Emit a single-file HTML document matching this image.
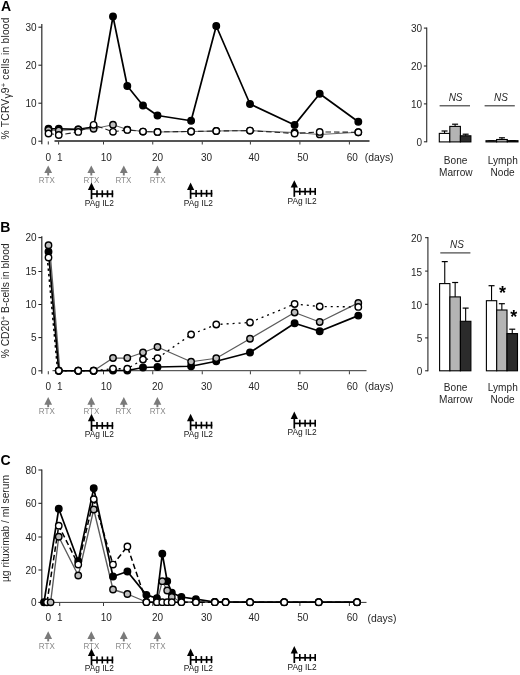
<!DOCTYPE html>
<html lang="en"><head><meta charset="utf-8"><title>Figure</title>
<style>
html,body{margin:0;padding:0;background:#fff;}
body{width:520px;height:675px;overflow:hidden;font-family:"Liberation Sans", Arial, Helvetica, sans-serif;}
svg{display:block;filter:blur(0.35px);}
</style></head><body>
<svg width="520" height="675" viewBox="0 0 520 675" font-family='&quot;Liberation Sans&quot;, Arial, Helvetica, sans-serif'>
<rect width="520" height="675" fill="#fff"/>
<text x="1.1" y="10.9" font-size="14" text-anchor="start" fill="#000" font-weight="bold">A</text>
<text transform="translate(9.3,78.4) rotate(-90)" font-size="10.3" letter-spacing="0.2" text-anchor="middle" fill="#262626">% TCRV<tspan dy="1.5">γ</tspan><tspan dy="-1.5">9</tspan><tspan font-size="7.5" dy="-3.5">+</tspan><tspan dy="3.5"> cells in blood</tspan></text>
<line x1="41.8" y1="24" x2="41.8" y2="144.2" stroke="#3a3a3a" stroke-width="1.3" />
<line x1="38.4" y1="27.2" x2="41.8" y2="27.2" stroke="#1a1a1a" stroke-width="1" />
<text x="36.6" y="30.9" font-size="10" text-anchor="end" fill="#262626" >30</text>
<line x1="38.4" y1="65.2" x2="41.8" y2="65.2" stroke="#1a1a1a" stroke-width="1" />
<text x="36.6" y="68.9" font-size="10" text-anchor="end" fill="#262626" >20</text>
<line x1="38.4" y1="103.2" x2="41.8" y2="103.2" stroke="#1a1a1a" stroke-width="1" />
<text x="36.6" y="106.9" font-size="10" text-anchor="end" fill="#262626" >10</text>
<line x1="38.4" y1="141.2" x2="41.8" y2="141.2" stroke="#1a1a1a" stroke-width="1" />
<text x="36.6" y="144.89999999999998" font-size="10" text-anchor="end" fill="#262626" >0</text>
<line x1="54.5" y1="140.9" x2="369.5" y2="140.9" stroke="#1c1c1c" stroke-width="1.5" />
<line x1="48.3" y1="141.4" x2="48.3" y2="144.5" stroke="#3a3a3a" stroke-width="1" />
<line x1="58.6" y1="141.4" x2="58.6" y2="144.5" stroke="#3a3a3a" stroke-width="1" />
<line x1="103.5" y1="141.4" x2="103.5" y2="144.5" stroke="#3a3a3a" stroke-width="1" />
<line x1="152.75" y1="141.4" x2="152.75" y2="144.5" stroke="#3a3a3a" stroke-width="1" />
<line x1="202.25" y1="141.4" x2="202.25" y2="144.5" stroke="#3a3a3a" stroke-width="1" />
<line x1="250.4" y1="141.4" x2="250.4" y2="144.5" stroke="#3a3a3a" stroke-width="1" />
<line x1="299.9" y1="141.4" x2="299.9" y2="144.5" stroke="#3a3a3a" stroke-width="1" />
<line x1="349.4" y1="141.4" x2="349.4" y2="144.5" stroke="#3a3a3a" stroke-width="1" />
<text x="48.2" y="160.7" font-size="10" text-anchor="middle" fill="#262626" >0</text>
<text x="59.9" y="160.7" font-size="10" text-anchor="middle" fill="#262626" >1</text>
<text x="106.3" y="160.7" font-size="10" text-anchor="middle" fill="#262626" >10</text>
<text x="157.5" y="160.7" font-size="10" text-anchor="middle" fill="#262626" >20</text>
<text x="206.5" y="160.7" font-size="10" text-anchor="middle" fill="#262626" >30</text>
<text x="254" y="160.7" font-size="10" text-anchor="middle" fill="#262626" >40</text>
<text x="302.75" y="160.7" font-size="10" text-anchor="middle" fill="#262626" >50</text>
<text x="352.25" y="160.7" font-size="10" text-anchor="middle" fill="#262626" >60</text>
<text x="364.7" y="161.3" font-size="10.4" text-anchor="start" fill="#262626" >(days)</text>
<polyline points="48.5,130 58.75,130.5 78.25,129.4 93.6,128.75 113,124.7 127.3,129.6 143,131.6 157.5,131.9 191.1,131.5 216.25,131 250,130.6 294.6,132.5 319.7,134.4 358.3,132.25" fill="none" stroke="#666" stroke-width="1.05"  stroke-linejoin="round" />
<polyline points="48.5,128.75 58.75,128.75 78.25,129.4 93.6,127 113,16.5 127.3,86 143,105.5 157.5,115.5 191.1,120.75 216.25,26 250,104 294.6,124.9 319.7,93.75 358.3,121.8" fill="none" stroke="#000" stroke-width="1.7"  stroke-linejoin="round" />
<polyline points="48.5,133.5 58.75,135 78.25,131.9 93.6,124.8 113,131.8 127.3,129.9 143,131.6 157.5,131.9 191.1,131.5 216.25,131 250,130.6 294.6,133.5 319.7,131.9 358.3,132.25" fill="none" stroke="#222" stroke-width="1.1" stroke-dasharray="5.5 3" stroke-linejoin="round" />
<circle cx="48.5" cy="128.75" r="3.25" fill="#000" stroke="#000" stroke-width="1.4"/>
<circle cx="58.75" cy="128.75" r="3.25" fill="#000" stroke="#000" stroke-width="1.4"/>
<circle cx="78.25" cy="129.4" r="3.25" fill="#000" stroke="#000" stroke-width="1.4"/>
<circle cx="93.6" cy="127" r="3.25" fill="#000" stroke="#000" stroke-width="1.4"/>
<circle cx="113" cy="16.5" r="3.25" fill="#000" stroke="#000" stroke-width="1.4"/>
<circle cx="127.3" cy="86" r="3.25" fill="#000" stroke="#000" stroke-width="1.4"/>
<circle cx="143" cy="105.5" r="3.25" fill="#000" stroke="#000" stroke-width="1.4"/>
<circle cx="157.5" cy="115.5" r="3.25" fill="#000" stroke="#000" stroke-width="1.4"/>
<circle cx="191.1" cy="120.75" r="3.25" fill="#000" stroke="#000" stroke-width="1.4"/>
<circle cx="216.25" cy="26" r="3.25" fill="#000" stroke="#000" stroke-width="1.4"/>
<circle cx="250" cy="104" r="3.25" fill="#000" stroke="#000" stroke-width="1.4"/>
<circle cx="294.6" cy="124.9" r="3.25" fill="#000" stroke="#000" stroke-width="1.4"/>
<circle cx="319.7" cy="93.75" r="3.25" fill="#000" stroke="#000" stroke-width="1.4"/>
<circle cx="358.3" cy="121.8" r="3.25" fill="#000" stroke="#000" stroke-width="1.4"/>
<circle cx="48.5" cy="130" r="3.2" fill="#bdbdbd" stroke="#000" stroke-width="1.4"/>
<circle cx="58.75" cy="130.5" r="3.2" fill="#bdbdbd" stroke="#000" stroke-width="1.4"/>
<circle cx="78.25" cy="129.4" r="3.2" fill="#bdbdbd" stroke="#000" stroke-width="1.4"/>
<circle cx="93.6" cy="128.75" r="3.2" fill="#bdbdbd" stroke="#000" stroke-width="1.4"/>
<circle cx="113" cy="124.7" r="3.2" fill="#bdbdbd" stroke="#000" stroke-width="1.4"/>
<circle cx="127.3" cy="129.6" r="3.2" fill="#bdbdbd" stroke="#000" stroke-width="1.4"/>
<circle cx="143" cy="131.6" r="3.2" fill="#bdbdbd" stroke="#000" stroke-width="1.4"/>
<circle cx="157.5" cy="131.9" r="3.2" fill="#bdbdbd" stroke="#000" stroke-width="1.4"/>
<circle cx="191.1" cy="131.5" r="3.2" fill="#bdbdbd" stroke="#000" stroke-width="1.4"/>
<circle cx="216.25" cy="131" r="3.2" fill="#bdbdbd" stroke="#000" stroke-width="1.4"/>
<circle cx="250" cy="130.6" r="3.2" fill="#bdbdbd" stroke="#000" stroke-width="1.4"/>
<circle cx="294.6" cy="132.5" r="3.2" fill="#bdbdbd" stroke="#000" stroke-width="1.4"/>
<circle cx="319.7" cy="134.4" r="3.2" fill="#bdbdbd" stroke="#000" stroke-width="1.4"/>
<circle cx="358.3" cy="132.25" r="3.2" fill="#bdbdbd" stroke="#000" stroke-width="1.4"/>
<circle cx="48.5" cy="133.5" r="3.2" fill="#fff" stroke="#000" stroke-width="1.4"/>
<circle cx="58.75" cy="135" r="3.2" fill="#fff" stroke="#000" stroke-width="1.4"/>
<circle cx="78.25" cy="131.9" r="3.2" fill="#fff" stroke="#000" stroke-width="1.4"/>
<circle cx="93.6" cy="124.8" r="3.2" fill="#fff" stroke="#000" stroke-width="1.4"/>
<circle cx="113" cy="131.8" r="3.2" fill="#fff" stroke="#000" stroke-width="1.4"/>
<circle cx="127.3" cy="129.9" r="3.2" fill="#fff" stroke="#000" stroke-width="1.4"/>
<circle cx="143" cy="131.6" r="3.2" fill="#fff" stroke="#000" stroke-width="1.4"/>
<circle cx="157.5" cy="131.9" r="3.2" fill="#fff" stroke="#000" stroke-width="1.4"/>
<circle cx="191.1" cy="131.5" r="3.2" fill="#fff" stroke="#000" stroke-width="1.4"/>
<circle cx="216.25" cy="131" r="3.2" fill="#fff" stroke="#000" stroke-width="1.4"/>
<circle cx="250" cy="130.6" r="3.2" fill="#fff" stroke="#000" stroke-width="1.4"/>
<circle cx="294.6" cy="133.5" r="3.2" fill="#fff" stroke="#000" stroke-width="1.4"/>
<circle cx="319.7" cy="131.9" r="3.2" fill="#fff" stroke="#000" stroke-width="1.4"/>
<circle cx="358.3" cy="132.25" r="3.2" fill="#fff" stroke="#000" stroke-width="1.4"/>
<polygon points="48.2,165.4 44.300000000000004,173.0 52.1,173.0" fill="#7a7a7a"/>
<line x1="48.2" y1="171.8" x2="48.2" y2="175.5" stroke="#7a7a7a" stroke-width="1.9" />
<text x="46.800000000000004" y="182.7" font-size="8.9" text-anchor="middle" fill="#8a8a8a" textLength="15.9" lengthAdjust="spacingAndGlyphs">RTX</text>
<polygon points="91.3,165.4 87.39999999999999,173.0 95.2,173.0" fill="#7a7a7a"/>
<line x1="91.3" y1="171.8" x2="91.3" y2="175.5" stroke="#7a7a7a" stroke-width="1.9" />
<text x="91.39999999999999" y="182.7" font-size="8.9" text-anchor="middle" fill="#8a8a8a" textLength="15.9" lengthAdjust="spacingAndGlyphs">RTX</text>
<polygon points="123.8,165.4 119.89999999999999,173.0 127.7,173.0" fill="#7a7a7a"/>
<line x1="123.8" y1="171.8" x2="123.8" y2="175.5" stroke="#7a7a7a" stroke-width="1.9" />
<text x="123.39999999999999" y="182.7" font-size="8.9" text-anchor="middle" fill="#8a8a8a" textLength="15.9" lengthAdjust="spacingAndGlyphs">RTX</text>
<polygon points="157.4,165.4 153.5,173.0 161.3,173.0" fill="#7a7a7a"/>
<line x1="157.4" y1="171.8" x2="157.4" y2="175.5" stroke="#7a7a7a" stroke-width="1.9" />
<text x="157.6" y="182.7" font-size="8.9" text-anchor="middle" fill="#8a8a8a" textLength="15.9" lengthAdjust="spacingAndGlyphs">RTX</text>
<polygon points="91.5,182.5 87.9,189.9 95.1,189.9" fill="#000"/>
<line x1="91.5" y1="187.5" x2="91.5" y2="199.2" stroke="#000" stroke-width="1.7" />
<line x1="91.5" y1="194.0" x2="113.2" y2="194.0" stroke="#000" stroke-width="1.7" />
<line x1="97.0" y1="190.3" x2="97.0" y2="197.3" stroke="#000" stroke-width="1.6" />
<line x1="102.3" y1="190.3" x2="102.3" y2="197.3" stroke="#000" stroke-width="1.6" />
<line x1="107.5" y1="190.3" x2="107.5" y2="197.3" stroke="#000" stroke-width="1.6" />
<line x1="112.4" y1="190.3" x2="112.4" y2="197.3" stroke="#000" stroke-width="1.6" />
<text x="84.7" y="205.79999999999998" font-size="9" text-anchor="start" fill="#161616" textLength="29.2" lengthAdjust="spacingAndGlyphs">PAg IL2</text>
<polygon points="190.6,182.5 187.0,189.9 194.2,189.9" fill="#000"/>
<line x1="190.6" y1="187.5" x2="190.6" y2="198.8" stroke="#000" stroke-width="1.7" />
<line x1="190.6" y1="193.60000000000002" x2="212.29999999999998" y2="193.60000000000002" stroke="#000" stroke-width="1.7" />
<line x1="196.1" y1="189.90000000000003" x2="196.1" y2="196.90000000000003" stroke="#000" stroke-width="1.6" />
<line x1="201.4" y1="189.90000000000003" x2="201.4" y2="196.90000000000003" stroke="#000" stroke-width="1.6" />
<line x1="206.6" y1="189.90000000000003" x2="206.6" y2="196.90000000000003" stroke="#000" stroke-width="1.6" />
<line x1="211.5" y1="189.90000000000003" x2="211.5" y2="196.90000000000003" stroke="#000" stroke-width="1.6" />
<text x="183.79999999999998" y="205.79999999999998" font-size="9" text-anchor="start" fill="#161616" textLength="29.2" lengthAdjust="spacingAndGlyphs">PAg IL2</text>
<polygon points="294.3,180.2 290.7,187.6 297.90000000000003,187.6" fill="#000"/>
<line x1="294.3" y1="185.2" x2="294.3" y2="196.8" stroke="#000" stroke-width="1.7" />
<line x1="294.3" y1="191.60000000000002" x2="316.0" y2="191.60000000000002" stroke="#000" stroke-width="1.7" />
<line x1="299.8" y1="187.90000000000003" x2="299.8" y2="194.90000000000003" stroke="#000" stroke-width="1.6" />
<line x1="305.1" y1="187.90000000000003" x2="305.1" y2="194.90000000000003" stroke="#000" stroke-width="1.6" />
<line x1="310.3" y1="187.90000000000003" x2="310.3" y2="194.90000000000003" stroke="#000" stroke-width="1.6" />
<line x1="315.2" y1="187.90000000000003" x2="315.2" y2="194.90000000000003" stroke="#000" stroke-width="1.6" />
<text x="287.5" y="203.9" font-size="9" text-anchor="start" fill="#161616" textLength="29.2" lengthAdjust="spacingAndGlyphs">PAg IL2</text>
<line x1="426.7" y1="27.6" x2="426.7" y2="142.3" stroke="#3a3a3a" stroke-width="1.2" />
<line x1="423.9" y1="28.1" x2="426.7" y2="28.1" stroke="#1a1a1a" stroke-width="1" />
<text x="422" y="32.300000000000004" font-size="10" text-anchor="end" fill="#262626" >30</text>
<line x1="423.9" y1="66" x2="426.7" y2="66" stroke="#1a1a1a" stroke-width="1" />
<text x="422" y="70.2" font-size="10" text-anchor="end" fill="#262626" >20</text>
<line x1="423.9" y1="103.9" x2="426.7" y2="103.9" stroke="#1a1a1a" stroke-width="1" />
<text x="422" y="108.10000000000001" font-size="10" text-anchor="end" fill="#262626" >10</text>
<line x1="423.9" y1="141.8" x2="426.7" y2="141.8" stroke="#1a1a1a" stroke-width="1" />
<text x="422" y="146.0" font-size="10" text-anchor="end" fill="#262626" >0</text>
<line x1="444.55" y1="131" x2="444.55" y2="133.4" stroke="#000" stroke-width="1.1" />
<line x1="441.55" y1="131" x2="447.55" y2="131" stroke="#000" stroke-width="1.2" />
<rect x="439.3" y="133.4" width="10.5" height="8.5" fill="#fff" stroke="#000" stroke-width="1.1"/>
<line x1="455.1" y1="124.2" x2="455.1" y2="126.4" stroke="#000" stroke-width="1.1" />
<line x1="452.1" y1="124.2" x2="458.1" y2="124.2" stroke="#000" stroke-width="1.2" />
<rect x="449.8" y="126.4" width="10.599999999999966" height="15.5" fill="#b4b4b4" stroke="#000" stroke-width="1.1"/>
<line x1="465.65" y1="134.2" x2="465.65" y2="135.8" stroke="#000" stroke-width="1.1" />
<line x1="462.65" y1="134.2" x2="468.65" y2="134.2" stroke="#000" stroke-width="1.2" />
<rect x="460.4" y="135.8" width="10.5" height="6.099999999999994" fill="#2b2b2b" stroke="#000" stroke-width="1.1"/>
<line x1="491.3" y1="140.7" x2="491.3" y2="140.7" stroke="#000" stroke-width="1.1" />
<line x1="488.3" y1="140.7" x2="494.3" y2="140.7" stroke="#000" stroke-width="1.2" />
<rect x="486" y="140.7" width="10.600000000000023" height="1.200000000000017" fill="#fff" stroke="#000" stroke-width="1.1"/>
<line x1="501.95000000000005" y1="137.8" x2="501.95000000000005" y2="139.5" stroke="#000" stroke-width="1.1" />
<line x1="498.95000000000005" y1="137.8" x2="504.95000000000005" y2="137.8" stroke="#000" stroke-width="1.2" />
<rect x="496.6" y="139.5" width="10.699999999999989" height="2.4000000000000057" fill="#b4b4b4" stroke="#000" stroke-width="1.1"/>
<line x1="512.65" y1="140.7" x2="512.65" y2="140.7" stroke="#000" stroke-width="1.1" />
<line x1="509.65" y1="140.7" x2="515.65" y2="140.7" stroke="#000" stroke-width="1.2" />
<rect x="507.3" y="140.7" width="10.699999999999989" height="1.200000000000017" fill="#2b2b2b" stroke="#000" stroke-width="1.1"/>
<line x1="439.6" y1="105.8" x2="470" y2="105.8" stroke="#333" stroke-width="1.1" />
<line x1="484.6" y1="105.8" x2="514.8" y2="105.8" stroke="#333" stroke-width="1.1" />
<text x="455.6" y="101.1" font-size="10" text-anchor="middle" fill="#262626" font-style="italic">NS</text>
<text x="501" y="101.1" font-size="10" text-anchor="middle" fill="#262626" font-style="italic">NS</text>
<text x="455.6" y="164.3" font-size="10.1" text-anchor="middle" fill="#262626" >Bone</text>
<text x="455.8" y="176.3" font-size="10.1" text-anchor="middle" fill="#262626" >Marrow</text>
<text x="502.8" y="164.3" font-size="10.1" text-anchor="middle" fill="#262626" >Lymph</text>
<text x="502.6" y="176.3" font-size="10.1" text-anchor="middle" fill="#262626" >Node</text>
<text x="0.2" y="232.3" font-size="14" text-anchor="start" fill="#000" font-weight="bold">B</text>
<text transform="translate(9.4,300.8) rotate(-90)" font-size="10.3" letter-spacing="0" text-anchor="middle" fill="#262626">% CD20<tspan font-size="7" dy="-3.5">+</tspan><tspan dy="3.5"> B-cells in blood</tspan></text>
<line x1="41.8" y1="236.2" x2="41.8" y2="373.8" stroke="#3a3a3a" stroke-width="1.3" />
<line x1="38.4" y1="237.6" x2="41.8" y2="237.6" stroke="#1a1a1a" stroke-width="1" />
<text x="36.6" y="241.29999999999998" font-size="10" text-anchor="end" fill="#262626" >20</text>
<line x1="38.4" y1="271.5" x2="41.8" y2="271.5" stroke="#1a1a1a" stroke-width="1" />
<text x="36.6" y="275.2" font-size="10" text-anchor="end" fill="#262626" >15</text>
<line x1="38.4" y1="304.5" x2="41.8" y2="304.5" stroke="#1a1a1a" stroke-width="1" />
<text x="36.6" y="308.2" font-size="10" text-anchor="end" fill="#262626" >10</text>
<line x1="38.4" y1="337.6" x2="41.8" y2="337.6" stroke="#1a1a1a" stroke-width="1" />
<text x="36.6" y="341.3" font-size="10" text-anchor="end" fill="#262626" >5</text>
<line x1="38.4" y1="370.8" x2="41.8" y2="370.8" stroke="#1a1a1a" stroke-width="1" />
<text x="36.6" y="374.5" font-size="10" text-anchor="end" fill="#262626" >0</text>
<line x1="52.5" y1="370.7" x2="366.5" y2="370.7" stroke="#1c1c1c" stroke-width="0.9" />
<line x1="48.3" y1="371.2" x2="48.3" y2="374.3" stroke="#3a3a3a" stroke-width="1" />
<line x1="58.6" y1="371.2" x2="58.6" y2="374.3" stroke="#3a3a3a" stroke-width="1" />
<line x1="103.5" y1="371.2" x2="103.5" y2="374.3" stroke="#3a3a3a" stroke-width="1" />
<line x1="152.75" y1="371.2" x2="152.75" y2="374.3" stroke="#3a3a3a" stroke-width="1" />
<line x1="202.25" y1="371.2" x2="202.25" y2="374.3" stroke="#3a3a3a" stroke-width="1" />
<line x1="250.4" y1="371.2" x2="250.4" y2="374.3" stroke="#3a3a3a" stroke-width="1" />
<line x1="299.9" y1="371.2" x2="299.9" y2="374.3" stroke="#3a3a3a" stroke-width="1" />
<line x1="349.4" y1="371.2" x2="349.4" y2="374.3" stroke="#3a3a3a" stroke-width="1" />
<text x="48.2" y="389.9" font-size="10" text-anchor="middle" fill="#262626" >0</text>
<text x="59.9" y="389.9" font-size="10" text-anchor="middle" fill="#262626" >1</text>
<text x="106.3" y="389.9" font-size="10" text-anchor="middle" fill="#262626" >10</text>
<text x="157.5" y="389.9" font-size="10" text-anchor="middle" fill="#262626" >20</text>
<text x="206.5" y="389.9" font-size="10" text-anchor="middle" fill="#262626" >30</text>
<text x="254" y="389.9" font-size="10" text-anchor="middle" fill="#262626" >40</text>
<text x="302.75" y="389.9" font-size="10" text-anchor="middle" fill="#262626" >50</text>
<text x="352.25" y="389.9" font-size="10" text-anchor="middle" fill="#262626" >60</text>
<text x="364.7" y="389.6" font-size="10.4" text-anchor="start" fill="#262626" >(days)</text>
<polyline points="49.5,245.25 59.9,370.75 58.75,370.75 78.25,370.75 93.6,370.75 113,358 127.3,358 143,352.5 157.5,347 191.1,361.75 216.25,358.25 250,338.75 294.6,312.5 319.7,322 358.3,302.9" fill="none" stroke="#5c5c5c" stroke-width="1.25"  stroke-linejoin="round" />
<polyline points="48.5,251.75 58.75,370.75 78.25,370.75 93.6,370.75 113,370.5 127.3,370.5 143,367.5 157.5,367 191.1,366.25 216.25,361.25 250,352.5 294.6,323.25 319.7,331.25 358.3,315.6" fill="none" stroke="#000" stroke-width="1.7"  stroke-linejoin="round" />
<polyline points="47.3,257.5 57.5,369" fill="none" stroke="#000" stroke-width="1.6" stroke-dasharray="2.5 3" stroke-linejoin="round" />
<polyline points="58.75,370.75 78.25,370.75 93.6,370.75 113,368.75 127.3,368.75 143,359.5 157.5,358.25 191.1,334.5 216.25,324.5 250,322.5 294.6,304 319.7,306.5 358.3,306.9" fill="none" stroke="#000" stroke-width="1.3" stroke-dasharray="2 4" stroke-linejoin="round" />
<circle cx="48.5" cy="251.75" r="3.25" fill="#000" stroke="#000" stroke-width="1.4"/>
<circle cx="58.75" cy="370.75" r="3.25" fill="#000" stroke="#000" stroke-width="1.4"/>
<circle cx="78.25" cy="370.75" r="3.25" fill="#000" stroke="#000" stroke-width="1.4"/>
<circle cx="93.6" cy="370.75" r="3.25" fill="#000" stroke="#000" stroke-width="1.4"/>
<circle cx="113" cy="370.5" r="3.25" fill="#000" stroke="#000" stroke-width="1.4"/>
<circle cx="127.3" cy="370.5" r="3.25" fill="#000" stroke="#000" stroke-width="1.4"/>
<circle cx="143" cy="367.5" r="3.25" fill="#000" stroke="#000" stroke-width="1.4"/>
<circle cx="157.5" cy="367" r="3.25" fill="#000" stroke="#000" stroke-width="1.4"/>
<circle cx="191.1" cy="366.25" r="3.25" fill="#000" stroke="#000" stroke-width="1.4"/>
<circle cx="216.25" cy="361.25" r="3.25" fill="#000" stroke="#000" stroke-width="1.4"/>
<circle cx="250" cy="352.5" r="3.25" fill="#000" stroke="#000" stroke-width="1.4"/>
<circle cx="294.6" cy="323.25" r="3.25" fill="#000" stroke="#000" stroke-width="1.4"/>
<circle cx="319.7" cy="331.25" r="3.25" fill="#000" stroke="#000" stroke-width="1.4"/>
<circle cx="358.3" cy="315.6" r="3.25" fill="#000" stroke="#000" stroke-width="1.4"/>
<circle cx="48.5" cy="245.25" r="3.2" fill="#bdbdbd" stroke="#000" stroke-width="1.4"/>
<circle cx="58.75" cy="370.75" r="3.2" fill="#bdbdbd" stroke="#000" stroke-width="1.4"/>
<circle cx="78.25" cy="370.75" r="3.2" fill="#bdbdbd" stroke="#000" stroke-width="1.4"/>
<circle cx="93.6" cy="370.75" r="3.2" fill="#bdbdbd" stroke="#000" stroke-width="1.4"/>
<circle cx="113" cy="358" r="3.2" fill="#bdbdbd" stroke="#000" stroke-width="1.4"/>
<circle cx="127.3" cy="358" r="3.2" fill="#bdbdbd" stroke="#000" stroke-width="1.4"/>
<circle cx="143" cy="352.5" r="3.2" fill="#bdbdbd" stroke="#000" stroke-width="1.4"/>
<circle cx="157.5" cy="347" r="3.2" fill="#bdbdbd" stroke="#000" stroke-width="1.4"/>
<circle cx="191.1" cy="361.75" r="3.2" fill="#bdbdbd" stroke="#000" stroke-width="1.4"/>
<circle cx="216.25" cy="358.25" r="3.2" fill="#bdbdbd" stroke="#000" stroke-width="1.4"/>
<circle cx="250" cy="338.75" r="3.2" fill="#bdbdbd" stroke="#000" stroke-width="1.4"/>
<circle cx="294.6" cy="312.5" r="3.2" fill="#bdbdbd" stroke="#000" stroke-width="1.4"/>
<circle cx="319.7" cy="322" r="3.2" fill="#bdbdbd" stroke="#000" stroke-width="1.4"/>
<circle cx="358.3" cy="302.9" r="3.2" fill="#bdbdbd" stroke="#000" stroke-width="1.4"/>
<circle cx="48.5" cy="257.5" r="3.2" fill="#fff" stroke="#000" stroke-width="1.4"/>
<circle cx="58.75" cy="370.75" r="3.2" fill="#fff" stroke="#000" stroke-width="1.4"/>
<circle cx="78.25" cy="370.75" r="3.2" fill="#fff" stroke="#000" stroke-width="1.4"/>
<circle cx="93.6" cy="370.75" r="3.2" fill="#fff" stroke="#000" stroke-width="1.4"/>
<circle cx="113" cy="368.75" r="3.2" fill="#fff" stroke="#000" stroke-width="1.4"/>
<circle cx="127.3" cy="368.75" r="3.2" fill="#fff" stroke="#000" stroke-width="1.4"/>
<circle cx="143" cy="359.5" r="3.2" fill="#fff" stroke="#000" stroke-width="1.4"/>
<circle cx="157.5" cy="358.25" r="3.2" fill="#fff" stroke="#000" stroke-width="1.4"/>
<circle cx="191.1" cy="334.5" r="3.2" fill="#fff" stroke="#000" stroke-width="1.4"/>
<circle cx="216.25" cy="324.5" r="3.2" fill="#fff" stroke="#000" stroke-width="1.4"/>
<circle cx="250" cy="322.5" r="3.2" fill="#fff" stroke="#000" stroke-width="1.4"/>
<circle cx="294.6" cy="304" r="3.2" fill="#fff" stroke="#000" stroke-width="1.4"/>
<circle cx="319.7" cy="306.5" r="3.2" fill="#fff" stroke="#000" stroke-width="1.4"/>
<circle cx="358.3" cy="306.9" r="3.2" fill="#fff" stroke="#000" stroke-width="1.4"/>
<polygon points="48.2,397.1 44.300000000000004,404.7 52.1,404.7" fill="#7a7a7a"/>
<line x1="48.2" y1="403.5" x2="48.2" y2="407.2" stroke="#7a7a7a" stroke-width="1.9" />
<text x="46.800000000000004" y="414.40000000000003" font-size="8.9" text-anchor="middle" fill="#8a8a8a" textLength="15.9" lengthAdjust="spacingAndGlyphs">RTX</text>
<polygon points="91.3,397.1 87.39999999999999,404.7 95.2,404.7" fill="#7a7a7a"/>
<line x1="91.3" y1="403.5" x2="91.3" y2="407.2" stroke="#7a7a7a" stroke-width="1.9" />
<text x="91.39999999999999" y="414.40000000000003" font-size="8.9" text-anchor="middle" fill="#8a8a8a" textLength="15.9" lengthAdjust="spacingAndGlyphs">RTX</text>
<polygon points="123.8,397.1 119.89999999999999,404.7 127.7,404.7" fill="#7a7a7a"/>
<line x1="123.8" y1="403.5" x2="123.8" y2="407.2" stroke="#7a7a7a" stroke-width="1.9" />
<text x="123.39999999999999" y="414.40000000000003" font-size="8.9" text-anchor="middle" fill="#8a8a8a" textLength="15.9" lengthAdjust="spacingAndGlyphs">RTX</text>
<polygon points="157.4,397.1 153.5,404.7 161.3,404.7" fill="#7a7a7a"/>
<line x1="157.4" y1="403.5" x2="157.4" y2="407.2" stroke="#7a7a7a" stroke-width="1.9" />
<text x="157.6" y="414.40000000000003" font-size="8.9" text-anchor="middle" fill="#8a8a8a" textLength="15.9" lengthAdjust="spacingAndGlyphs">RTX</text>
<polygon points="91.5,413.8 87.9,421.2 95.1,421.2" fill="#000"/>
<line x1="91.5" y1="418.8" x2="91.5" y2="431.0" stroke="#000" stroke-width="1.7" />
<line x1="91.5" y1="425.8" x2="113.2" y2="425.8" stroke="#000" stroke-width="1.7" />
<line x1="97.0" y1="422.1" x2="97.0" y2="429.1" stroke="#000" stroke-width="1.6" />
<line x1="102.3" y1="422.1" x2="102.3" y2="429.1" stroke="#000" stroke-width="1.6" />
<line x1="107.5" y1="422.1" x2="107.5" y2="429.1" stroke="#000" stroke-width="1.6" />
<line x1="112.4" y1="422.1" x2="112.4" y2="429.1" stroke="#000" stroke-width="1.6" />
<text x="84.7" y="437.1" font-size="9" text-anchor="start" fill="#161616" textLength="29.2" lengthAdjust="spacingAndGlyphs">PAg IL2</text>
<polygon points="190.6,413.8 187.0,421.2 194.2,421.2" fill="#000"/>
<line x1="190.6" y1="418.8" x2="190.6" y2="430.6" stroke="#000" stroke-width="1.7" />
<line x1="190.6" y1="425.40000000000003" x2="212.29999999999998" y2="425.40000000000003" stroke="#000" stroke-width="1.7" />
<line x1="196.1" y1="421.70000000000005" x2="196.1" y2="428.70000000000005" stroke="#000" stroke-width="1.6" />
<line x1="201.4" y1="421.70000000000005" x2="201.4" y2="428.70000000000005" stroke="#000" stroke-width="1.6" />
<line x1="206.6" y1="421.70000000000005" x2="206.6" y2="428.70000000000005" stroke="#000" stroke-width="1.6" />
<line x1="211.5" y1="421.70000000000005" x2="211.5" y2="428.70000000000005" stroke="#000" stroke-width="1.6" />
<text x="183.79999999999998" y="437.1" font-size="9" text-anchor="start" fill="#161616" textLength="29.2" lengthAdjust="spacingAndGlyphs">PAg IL2</text>
<polygon points="294.3,411.5 290.7,418.9 297.90000000000003,418.9" fill="#000"/>
<line x1="294.3" y1="416.5" x2="294.3" y2="428.6" stroke="#000" stroke-width="1.7" />
<line x1="294.3" y1="423.40000000000003" x2="316.0" y2="423.40000000000003" stroke="#000" stroke-width="1.7" />
<line x1="299.8" y1="419.70000000000005" x2="299.8" y2="426.70000000000005" stroke="#000" stroke-width="1.6" />
<line x1="305.1" y1="419.70000000000005" x2="305.1" y2="426.70000000000005" stroke="#000" stroke-width="1.6" />
<line x1="310.3" y1="419.70000000000005" x2="310.3" y2="426.70000000000005" stroke="#000" stroke-width="1.6" />
<line x1="315.2" y1="419.70000000000005" x2="315.2" y2="426.70000000000005" stroke="#000" stroke-width="1.6" />
<text x="287.5" y="435.1" font-size="9" text-anchor="start" fill="#161616" textLength="29.2" lengthAdjust="spacingAndGlyphs">PAg IL2</text>
<line x1="427.9" y1="237" x2="427.9" y2="371.3" stroke="#3a3a3a" stroke-width="1.2" />
<line x1="425.09999999999997" y1="237.7" x2="427.9" y2="237.7" stroke="#1a1a1a" stroke-width="1" />
<text x="422.2" y="242.1" font-size="10" text-anchor="end" fill="#262626" >20</text>
<line x1="425.09999999999997" y1="271.1" x2="427.9" y2="271.1" stroke="#1a1a1a" stroke-width="1" />
<text x="422.2" y="275.5" font-size="10" text-anchor="end" fill="#262626" >15</text>
<line x1="425.09999999999997" y1="304.3" x2="427.9" y2="304.3" stroke="#1a1a1a" stroke-width="1" />
<text x="422.2" y="308.7" font-size="10" text-anchor="end" fill="#262626" >10</text>
<line x1="425.09999999999997" y1="337.9" x2="427.9" y2="337.9" stroke="#1a1a1a" stroke-width="1" />
<text x="422.2" y="342.29999999999995" font-size="10" text-anchor="end" fill="#262626" >5</text>
<line x1="425.09999999999997" y1="370.8" x2="427.9" y2="370.8" stroke="#1a1a1a" stroke-width="1" />
<text x="422.2" y="375.2" font-size="10" text-anchor="end" fill="#262626" >0</text>
<line x1="444.75" y1="261.6" x2="444.75" y2="283.6" stroke="#000" stroke-width="1.1" />
<line x1="441.75" y1="261.6" x2="447.75" y2="261.6" stroke="#000" stroke-width="1.2" />
<rect x="439.6" y="283.6" width="10.299999999999955" height="87.19999999999999" fill="#fff" stroke="#000" stroke-width="1.1"/>
<line x1="455.15" y1="282.5" x2="455.15" y2="296.9" stroke="#000" stroke-width="1.1" />
<line x1="452.15" y1="282.5" x2="458.15" y2="282.5" stroke="#000" stroke-width="1.2" />
<rect x="449.9" y="296.9" width="10.5" height="73.90000000000003" fill="#b4b4b4" stroke="#000" stroke-width="1.1"/>
<line x1="465.65" y1="308.1" x2="465.65" y2="321.3" stroke="#000" stroke-width="1.1" />
<line x1="462.65" y1="308.1" x2="468.65" y2="308.1" stroke="#000" stroke-width="1.2" />
<rect x="460.4" y="321.3" width="10.5" height="49.5" fill="#2b2b2b" stroke="#000" stroke-width="1.1"/>
<line x1="491.54999999999995" y1="285.7" x2="491.54999999999995" y2="300.7" stroke="#000" stroke-width="1.1" />
<line x1="488.54999999999995" y1="285.7" x2="494.54999999999995" y2="285.7" stroke="#000" stroke-width="1.2" />
<rect x="486.4" y="300.7" width="10.300000000000011" height="70.10000000000002" fill="#fff" stroke="#000" stroke-width="1.1"/>
<line x1="501.85" y1="303.7" x2="501.85" y2="310" stroke="#000" stroke-width="1.1" />
<line x1="498.85" y1="303.7" x2="504.85" y2="303.7" stroke="#000" stroke-width="1.2" />
<rect x="496.7" y="310" width="10.300000000000011" height="60.80000000000001" fill="#b4b4b4" stroke="#000" stroke-width="1.1"/>
<line x1="512.25" y1="329.2" x2="512.25" y2="333.6" stroke="#000" stroke-width="1.1" />
<line x1="509.25" y1="329.2" x2="515.25" y2="329.2" stroke="#000" stroke-width="1.2" />
<rect x="507" y="333.6" width="10.5" height="37.19999999999999" fill="#2b2b2b" stroke="#000" stroke-width="1.1"/>
<line x1="440.3" y1="252.9" x2="470.4" y2="252.9" stroke="#333" stroke-width="1.1" />
<text x="457" y="247.8" font-size="10" text-anchor="middle" fill="#262626" font-style="italic">NS</text>
<text x="502.4" y="299.4" font-size="18" text-anchor="middle" fill="#000" font-weight="bold">*</text>
<text x="513.7" y="323.4" font-size="18" text-anchor="middle" fill="#000" font-weight="bold">*</text>
<text x="455.6" y="391" font-size="10.1" text-anchor="middle" fill="#262626" >Bone</text>
<text x="455.8" y="403.1" font-size="10.1" text-anchor="middle" fill="#262626" >Marrow</text>
<text x="502.8" y="391" font-size="10.1" text-anchor="middle" fill="#262626" >Lymph</text>
<text x="502.6" y="403.1" font-size="10.1" text-anchor="middle" fill="#262626" >Node</text>
<text x="0.6" y="465.2" font-size="14" text-anchor="start" fill="#000" font-weight="bold">C</text>
<text transform="translate(9.1,528.5) rotate(-90)" font-size="10.3" letter-spacing="0" text-anchor="middle" fill="#262626">µg rituximab / ml serum</text>
<line x1="41.8" y1="469.4" x2="41.8" y2="605.4" stroke="#3a3a3a" stroke-width="1.3" />
<line x1="38.4" y1="470" x2="41.8" y2="470" stroke="#1a1a1a" stroke-width="1" />
<text x="36.6" y="473.7" font-size="10" text-anchor="end" fill="#262626" >80</text>
<line x1="38.4" y1="503.3" x2="41.8" y2="503.3" stroke="#1a1a1a" stroke-width="1" />
<text x="36.6" y="507.0" font-size="10" text-anchor="end" fill="#262626" >60</text>
<line x1="38.4" y1="537" x2="41.8" y2="537" stroke="#1a1a1a" stroke-width="1" />
<text x="36.6" y="540.7" font-size="10" text-anchor="end" fill="#262626" >40</text>
<line x1="38.4" y1="570" x2="41.8" y2="570" stroke="#1a1a1a" stroke-width="1" />
<text x="36.6" y="573.7" font-size="10" text-anchor="end" fill="#262626" >20</text>
<line x1="38.4" y1="602.4" x2="41.8" y2="602.4" stroke="#1a1a1a" stroke-width="1" />
<text x="36.6" y="606.1" font-size="10" text-anchor="end" fill="#262626" >0</text>
<line x1="53.5" y1="602.4" x2="366.5" y2="602.4" stroke="#1c1c1c" stroke-width="0.9" />
<line x1="48.3" y1="602.9" x2="48.3" y2="606.0" stroke="#3a3a3a" stroke-width="1" />
<line x1="59.7" y1="602.9" x2="59.7" y2="606.0" stroke="#3a3a3a" stroke-width="1" />
<line x1="103.5" y1="602.9" x2="103.5" y2="606.0" stroke="#3a3a3a" stroke-width="1" />
<line x1="152.75" y1="602.9" x2="152.75" y2="606.0" stroke="#3a3a3a" stroke-width="1" />
<line x1="202.25" y1="602.9" x2="202.25" y2="606.0" stroke="#3a3a3a" stroke-width="1" />
<line x1="250.4" y1="602.9" x2="250.4" y2="606.0" stroke="#3a3a3a" stroke-width="1" />
<line x1="299.9" y1="602.9" x2="299.9" y2="606.0" stroke="#3a3a3a" stroke-width="1" />
<line x1="349.4" y1="602.9" x2="349.4" y2="606.0" stroke="#3a3a3a" stroke-width="1" />
<text x="48.2" y="621.4" font-size="10" text-anchor="middle" fill="#262626" >0</text>
<text x="59.9" y="621.4" font-size="10" text-anchor="middle" fill="#262626" >1</text>
<text x="106.3" y="621.4" font-size="10" text-anchor="middle" fill="#262626" >10</text>
<text x="157.5" y="621.4" font-size="10" text-anchor="middle" fill="#262626" >20</text>
<text x="206.5" y="621.4" font-size="10" text-anchor="middle" fill="#262626" >30</text>
<text x="254" y="621.4" font-size="10" text-anchor="middle" fill="#262626" >40</text>
<text x="302.75" y="621.4" font-size="10" text-anchor="middle" fill="#262626" >50</text>
<text x="352.25" y="621.4" font-size="10" text-anchor="middle" fill="#262626" >60</text>
<text x="367.5" y="622" font-size="10.4" text-anchor="start" fill="#262626" >(days)</text>
<polyline points="50.6,602.3 58.75,536.75 78.25,575.5 93.75,509.5 113,589.5 127.4,594 146.4,602 156.9,602 162.3,581.2 167.2,590.5 171.8,597 181.4,602 195.9,602 214.8,602 225.6,602 250,602.2 284.2,602.2 318.7,602.2 357,602.2" fill="none" stroke="#5c5c5c" stroke-width="1.35"  stroke-linejoin="round" />
<polyline points="44,602.3 58.75,508.75 78.25,561.25 93.75,488.25 113,576.5 127.4,571.5 146.4,594.9 156.9,598.2 162.3,553.75 167.2,581.2 171.8,592.7 181.4,597 195.9,599.2 214.8,602 225.6,602 250,602.2 284.2,602.2 318.7,602.2 357,602.2" fill="none" stroke="#000" stroke-width="1.7"  stroke-linejoin="round" />
<polyline points="47,602.3 58.75,525.75 78.25,564.5 93.75,499.25 113,564.6 127.4,546.4 146.4,602.2 156.9,602.2 162.3,602.2 167.2,602.2 171.8,602.2 181.4,602.2 195.9,602.2 214.8,602.2 225.6,602.2 250,602.2 284.2,602.2 318.7,602.2 357,602.2" fill="none" stroke="#000" stroke-width="1.5" stroke-dasharray="5.5 3" stroke-linejoin="round" />
<circle cx="44" cy="602.3" r="3.25" fill="#000" stroke="#000" stroke-width="1.4"/>
<circle cx="58.75" cy="508.75" r="3.25" fill="#000" stroke="#000" stroke-width="1.4"/>
<circle cx="78.25" cy="561.25" r="3.25" fill="#000" stroke="#000" stroke-width="1.4"/>
<circle cx="93.75" cy="488.25" r="3.25" fill="#000" stroke="#000" stroke-width="1.4"/>
<circle cx="113" cy="576.5" r="3.25" fill="#000" stroke="#000" stroke-width="1.4"/>
<circle cx="127.4" cy="571.5" r="3.25" fill="#000" stroke="#000" stroke-width="1.4"/>
<circle cx="146.4" cy="594.9" r="3.25" fill="#000" stroke="#000" stroke-width="1.4"/>
<circle cx="156.9" cy="598.2" r="3.25" fill="#000" stroke="#000" stroke-width="1.4"/>
<circle cx="162.3" cy="553.75" r="3.25" fill="#000" stroke="#000" stroke-width="1.4"/>
<circle cx="167.2" cy="581.2" r="3.25" fill="#000" stroke="#000" stroke-width="1.4"/>
<circle cx="171.8" cy="592.7" r="3.25" fill="#000" stroke="#000" stroke-width="1.4"/>
<circle cx="181.4" cy="597" r="3.25" fill="#000" stroke="#000" stroke-width="1.4"/>
<circle cx="195.9" cy="599.2" r="3.25" fill="#000" stroke="#000" stroke-width="1.4"/>
<circle cx="214.8" cy="602" r="3.25" fill="#000" stroke="#000" stroke-width="1.4"/>
<circle cx="225.6" cy="602" r="3.25" fill="#000" stroke="#000" stroke-width="1.4"/>
<circle cx="250" cy="602.2" r="3.25" fill="#000" stroke="#000" stroke-width="1.4"/>
<circle cx="284.2" cy="602.2" r="3.25" fill="#000" stroke="#000" stroke-width="1.4"/>
<circle cx="318.7" cy="602.2" r="3.25" fill="#000" stroke="#000" stroke-width="1.4"/>
<circle cx="357" cy="602.2" r="3.25" fill="#000" stroke="#000" stroke-width="1.4"/>
<circle cx="58.75" cy="536.75" r="3.2" fill="#bdbdbd" stroke="#000" stroke-width="1.4"/>
<circle cx="78.25" cy="575.5" r="3.2" fill="#bdbdbd" stroke="#000" stroke-width="1.4"/>
<circle cx="93.75" cy="509.5" r="3.2" fill="#bdbdbd" stroke="#000" stroke-width="1.4"/>
<circle cx="113" cy="589.5" r="3.2" fill="#bdbdbd" stroke="#000" stroke-width="1.4"/>
<circle cx="127.4" cy="594" r="3.2" fill="#bdbdbd" stroke="#000" stroke-width="1.4"/>
<circle cx="146.4" cy="602" r="3.2" fill="#bdbdbd" stroke="#000" stroke-width="1.4"/>
<circle cx="156.9" cy="602" r="3.2" fill="#bdbdbd" stroke="#000" stroke-width="1.4"/>
<circle cx="162.3" cy="581.2" r="3.2" fill="#bdbdbd" stroke="#000" stroke-width="1.4"/>
<circle cx="167.2" cy="590.5" r="3.2" fill="#bdbdbd" stroke="#000" stroke-width="1.4"/>
<circle cx="171.8" cy="597" r="3.2" fill="#bdbdbd" stroke="#000" stroke-width="1.4"/>
<circle cx="181.4" cy="602" r="3.2" fill="#bdbdbd" stroke="#000" stroke-width="1.4"/>
<circle cx="195.9" cy="602" r="3.2" fill="#bdbdbd" stroke="#000" stroke-width="1.4"/>
<circle cx="214.8" cy="602" r="3.2" fill="#bdbdbd" stroke="#000" stroke-width="1.4"/>
<circle cx="225.6" cy="602" r="3.2" fill="#bdbdbd" stroke="#000" stroke-width="1.4"/>
<circle cx="250" cy="602.2" r="3.2" fill="#bdbdbd" stroke="#000" stroke-width="1.4"/>
<circle cx="284.2" cy="602.2" r="3.2" fill="#bdbdbd" stroke="#000" stroke-width="1.4"/>
<circle cx="318.7" cy="602.2" r="3.2" fill="#bdbdbd" stroke="#000" stroke-width="1.4"/>
<circle cx="357" cy="602.2" r="3.2" fill="#bdbdbd" stroke="#000" stroke-width="1.4"/>
<circle cx="47" cy="602.3" r="3.2" fill="#fff" stroke="#000" stroke-width="1.4"/>
<circle cx="58.75" cy="525.75" r="3.2" fill="#fff" stroke="#000" stroke-width="1.4"/>
<circle cx="78.25" cy="564.5" r="3.2" fill="#fff" stroke="#000" stroke-width="1.4"/>
<circle cx="93.75" cy="499.25" r="3.2" fill="#fff" stroke="#000" stroke-width="1.4"/>
<circle cx="113" cy="564.6" r="3.2" fill="#fff" stroke="#000" stroke-width="1.4"/>
<circle cx="127.4" cy="546.4" r="3.2" fill="#fff" stroke="#000" stroke-width="1.4"/>
<circle cx="146.4" cy="602.2" r="3.2" fill="#fff" stroke="#000" stroke-width="1.4"/>
<circle cx="156.9" cy="602.2" r="3.2" fill="#fff" stroke="#000" stroke-width="1.4"/>
<circle cx="162.3" cy="602.2" r="3.2" fill="#fff" stroke="#000" stroke-width="1.4"/>
<circle cx="167.2" cy="602.2" r="3.2" fill="#fff" stroke="#000" stroke-width="1.4"/>
<circle cx="171.8" cy="602.2" r="3.2" fill="#fff" stroke="#000" stroke-width="1.4"/>
<circle cx="181.4" cy="602.2" r="3.2" fill="#fff" stroke="#000" stroke-width="1.4"/>
<circle cx="195.9" cy="602.2" r="3.2" fill="#fff" stroke="#000" stroke-width="1.4"/>
<circle cx="214.8" cy="602.2" r="3.2" fill="#fff" stroke="#000" stroke-width="1.4"/>
<circle cx="225.6" cy="602.2" r="3.2" fill="#fff" stroke="#000" stroke-width="1.4"/>
<circle cx="250" cy="602.2" r="3.2" fill="#fff" stroke="#000" stroke-width="1.4"/>
<circle cx="284.2" cy="602.2" r="3.2" fill="#fff" stroke="#000" stroke-width="1.4"/>
<circle cx="318.7" cy="602.2" r="3.2" fill="#fff" stroke="#000" stroke-width="1.4"/>
<circle cx="357" cy="602.2" r="3.2" fill="#fff" stroke="#000" stroke-width="1.4"/>
<circle cx="50.6" cy="602.3" r="3.2" fill="#bdbdbd" stroke="#000" stroke-width="1.4"/>
<polygon points="48.2,631.3000000000001 44.300000000000004,638.9000000000001 52.1,638.9000000000001" fill="#7a7a7a"/>
<line x1="48.2" y1="637.7" x2="48.2" y2="641.4000000000001" stroke="#7a7a7a" stroke-width="1.9" />
<text x="46.800000000000004" y="648.7" font-size="8.9" text-anchor="middle" fill="#8a8a8a" textLength="15.9" lengthAdjust="spacingAndGlyphs">RTX</text>
<polygon points="91.3,631.3000000000001 87.39999999999999,638.9000000000001 95.2,638.9000000000001" fill="#7a7a7a"/>
<line x1="91.3" y1="637.7" x2="91.3" y2="641.4000000000001" stroke="#7a7a7a" stroke-width="1.9" />
<text x="91.39999999999999" y="648.7" font-size="8.9" text-anchor="middle" fill="#8a8a8a" textLength="15.9" lengthAdjust="spacingAndGlyphs">RTX</text>
<polygon points="123.8,631.3000000000001 119.89999999999999,638.9000000000001 127.7,638.9000000000001" fill="#7a7a7a"/>
<line x1="123.8" y1="637.7" x2="123.8" y2="641.4000000000001" stroke="#7a7a7a" stroke-width="1.9" />
<text x="123.39999999999999" y="648.7" font-size="8.9" text-anchor="middle" fill="#8a8a8a" textLength="15.9" lengthAdjust="spacingAndGlyphs">RTX</text>
<polygon points="157.4,631.3000000000001 153.5,638.9000000000001 161.3,638.9000000000001" fill="#7a7a7a"/>
<line x1="157.4" y1="637.7" x2="157.4" y2="641.4000000000001" stroke="#7a7a7a" stroke-width="1.9" />
<text x="157.6" y="648.7" font-size="8.9" text-anchor="middle" fill="#8a8a8a" textLength="15.9" lengthAdjust="spacingAndGlyphs">RTX</text>
<polygon points="91.5,648.6 87.9,656.0 95.1,656.0" fill="#000"/>
<line x1="91.5" y1="653.6" x2="91.5" y2="665.4" stroke="#000" stroke-width="1.7" />
<line x1="91.5" y1="660.1999999999999" x2="113.2" y2="660.1999999999999" stroke="#000" stroke-width="1.7" />
<line x1="97.0" y1="656.4999999999999" x2="97.0" y2="663.4999999999999" stroke="#000" stroke-width="1.6" />
<line x1="102.3" y1="656.4999999999999" x2="102.3" y2="663.4999999999999" stroke="#000" stroke-width="1.6" />
<line x1="107.5" y1="656.4999999999999" x2="107.5" y2="663.4999999999999" stroke="#000" stroke-width="1.6" />
<line x1="112.4" y1="656.4999999999999" x2="112.4" y2="663.4999999999999" stroke="#000" stroke-width="1.6" />
<text x="84.7" y="670.9" font-size="9" text-anchor="start" fill="#161616" textLength="29.2" lengthAdjust="spacingAndGlyphs">PAg IL2</text>
<polygon points="190.6,648.6 187.0,656.0 194.2,656.0" fill="#000"/>
<line x1="190.6" y1="653.6" x2="190.6" y2="665.0" stroke="#000" stroke-width="1.7" />
<line x1="190.6" y1="659.8" x2="212.29999999999998" y2="659.8" stroke="#000" stroke-width="1.7" />
<line x1="196.1" y1="656.0999999999999" x2="196.1" y2="663.0999999999999" stroke="#000" stroke-width="1.6" />
<line x1="201.4" y1="656.0999999999999" x2="201.4" y2="663.0999999999999" stroke="#000" stroke-width="1.6" />
<line x1="206.6" y1="656.0999999999999" x2="206.6" y2="663.0999999999999" stroke="#000" stroke-width="1.6" />
<line x1="211.5" y1="656.0999999999999" x2="211.5" y2="663.0999999999999" stroke="#000" stroke-width="1.6" />
<text x="183.79999999999998" y="670.9" font-size="9" text-anchor="start" fill="#161616" textLength="29.2" lengthAdjust="spacingAndGlyphs">PAg IL2</text>
<polygon points="294.3,646.0 290.7,653.4 297.90000000000003,653.4" fill="#000"/>
<line x1="294.3" y1="651.0" x2="294.3" y2="663.0" stroke="#000" stroke-width="1.7" />
<line x1="294.3" y1="657.8" x2="316.0" y2="657.8" stroke="#000" stroke-width="1.7" />
<line x1="299.8" y1="654.0999999999999" x2="299.8" y2="661.0999999999999" stroke="#000" stroke-width="1.6" />
<line x1="305.1" y1="654.0999999999999" x2="305.1" y2="661.0999999999999" stroke="#000" stroke-width="1.6" />
<line x1="310.3" y1="654.0999999999999" x2="310.3" y2="661.0999999999999" stroke="#000" stroke-width="1.6" />
<line x1="315.2" y1="654.0999999999999" x2="315.2" y2="661.0999999999999" stroke="#000" stroke-width="1.6" />
<text x="287.5" y="669.6" font-size="9" text-anchor="start" fill="#161616" textLength="29.2" lengthAdjust="spacingAndGlyphs">PAg IL2</text>
</svg>
</body></html>
